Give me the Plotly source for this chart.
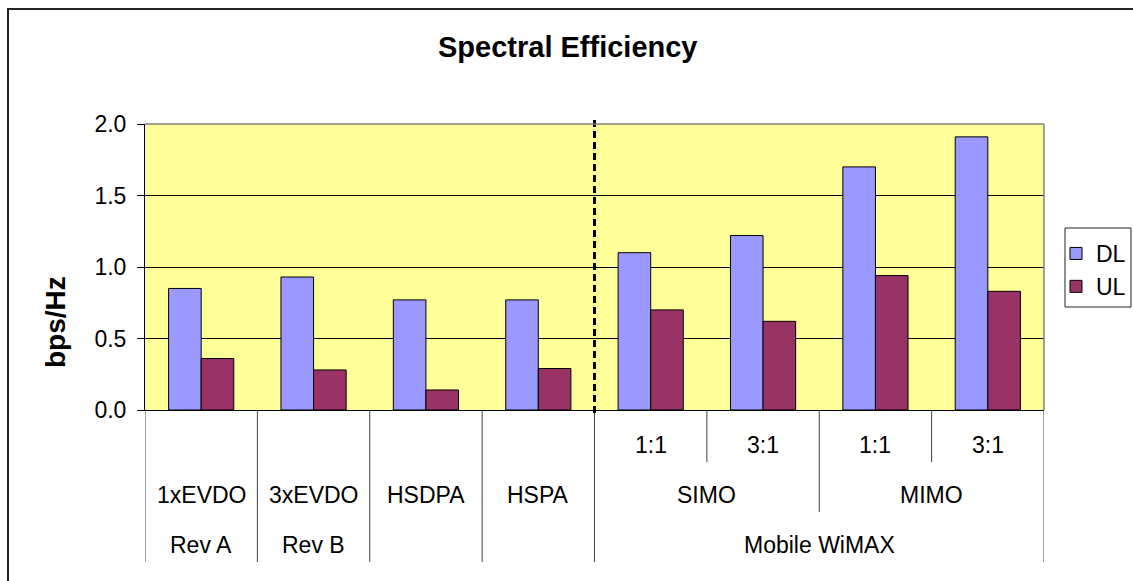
import plotly.graph_objects as go

# ---------------- data ----------------
series_names = ["DL", "UL"]
dl_values = [0.85, 0.93, 0.77, 0.77, 1.10, 1.22, 1.70, 1.91]
ul_values = [0.36, 0.28, 0.14, 0.29, 0.70, 0.62, 0.94, 0.83]

# three-level category axis (inner -> outer)
level1_labels = ["", "", "", "", "1:1", "3:1", "1:1", "3:1"]
level1_spans = [1, 1, 1, 1, 1, 1, 1, 1]
level2_labels = ["1xEVDO", "3xEVDO", "HSDPA", "HSPA", "SIMO", "MIMO"]
level2_spans = [1, 1, 1, 1, 2, 2]
level3_labels = ["Rev A", "Rev B", "", "", "Mobile WiMAX"]
level3_spans = [1, 1, 1, 1, 4]

y_ticks = [0.0, 0.5, 1.0, 1.5, 2.0]
title_text = "Spectral Efficiency"
y_title = "bps/Hz"

# ---------------- styling / geometry ----------------
W, H = 1133, 581
L, R, T, B = 145, 1044, 124, 410
PW, PH = R - L, B - T
FONT = "Liberation Sans, Arial, sans-serif"
DL_COLOR = "#9999FF"
UL_COLOR = "#993366"
SEP_COLOR = "#404040"


def px(p):
    return (p - L) / PW


def py(p):
    return (B - p) / PH


n = len(dl_values)
x_idx = list(range(n))

fig = go.Figure()
fig.add_trace(go.Bar(x=x_idx, y=dl_values, name=series_names[0],
                     marker=dict(color=DL_COLOR, line=dict(color="black", width=1)),
                     legendgroup="a"))
fig.add_trace(go.Bar(x=x_idx, y=ul_values, name=series_names[1],
                     marker=dict(color=UL_COLOR, line=dict(color="black", width=1)),
                     legendgroup="b"))

shapes = []
annotations = []

# level rows: line end pixel (label centre sits 17px above)
level_defs = [
    (level1_labels, level1_spans, 462),
    (level2_labels, level2_spans, 512),
    (level3_labels, level3_spans, 562),
]

boundary_depth = {}
for depth, (labels, spans, end_pix) in enumerate(level_defs, start=1):
    pos = 0
    boundary_depth[-0.5] = depth
    for lab, sp in zip(labels, spans):
        centre = pos + (sp - 1) / 2
        if lab:
            annotations.append(dict(x=centre, y=py(end_pix - 17), xref="x", yref="paper",
                                    text=lab, showarrow=False, yanchor="middle",
                                    font=dict(family=FONT, size=23, color="black")))
        pos += sp
        boundary_depth[pos - 0.5] = depth

for bx, depth in boundary_depth.items():
    end_pix = level_defs[depth - 1][2]
    shapes.append(dict(type="line", xref="x", yref="paper", x0=bx, x1=bx,
                       y0=0, y1=py(end_pix), line=dict(color=SEP_COLOR, width=1)))

# dashed divider before the WiMAX group
divider_x = sum(level3_spans[:-1]) - 0.5
shapes.append(dict(type="line", xref="x", yref="paper", x0=divider_x, x1=divider_x,
                   y0=py(413), y1=py(119), line=dict(color="black", width=3, dash="7px,4px")))

# gray top / right plot border
shapes.append(dict(type="line", xref="paper", yref="paper", x0=0, x1=1, y0=1, y1=1,
                   line=dict(color="#808080", width=1.5)))
shapes.append(dict(type="line", xref="paper", yref="paper", x0=1, x1=1, y0=0, y1=1,
                   line=dict(color="#808080", width=1.5)))

# outer chart border
shapes.append(dict(type="rect", xref="paper", yref="paper", x0=px(8), x1=px(1160),
                   y0=py(600), y1=py(9), line=dict(color="#222222", width=2),
                   fillcolor="rgba(0,0,0,0)"))

# legend box
shapes.append(dict(type="rect", xref="paper", yref="paper", x0=px(1065), x1=px(1131),
                   y0=py(307), y1=py(228), line=dict(color="#222222", width=1),
                   fillcolor="white", layer="below"))

# title & y-axis title
annotations.append(dict(x=px(568), y=py(47), xref="paper", yref="paper", text="<b>" + title_text + "</b>",
                        showarrow=False, xanchor="center", yanchor="middle",
                        font=dict(family=FONT, size=29, color="black")))
annotations.append(dict(x=px(55), y=py(322), xref="paper", yref="paper", text="<b>" + y_title + "</b>",
                        showarrow=False, xanchor="center", yanchor="middle", textangle=-90,
                        font=dict(family=FONT, size=28, color="black")))

fig.update_layout(
    width=W, height=H,
    margin=dict(l=L, r=W - R, t=T, b=H - B, autoexpand=False),
    paper_bgcolor="white",
    plot_bgcolor="#FFFF99",
    barmode="group", bargap=0.42, bargroupgap=0,
    font=dict(family=FONT, size=23, color="black"),
    showlegend=True,
    legend=dict(x=px(1056), y=py(232), xanchor="left", yanchor="top",
                borderwidth=0, bgcolor="rgba(0,0,0,0)",
                font=dict(family=FONT, size=23), tracegroupgap=13,
                traceorder="normal", itemwidth=30),
    shapes=shapes,
    annotations=annotations,
    xaxis=dict(range=[-0.5, n - 0.5], showticklabels=False, showgrid=False,
               zeroline=False, showline=True, linecolor="black", linewidth=1, ticks=""),
    yaxis=dict(range=[0, 2.0], tickvals=y_ticks, ticktext=[f"{v:.1f}" for v in y_ticks],
               showgrid=True, gridcolor="black", gridwidth=1, zeroline=False,
               showline=True, linecolor="black", linewidth=1,
               ticks="outside", ticklen=7, tickcolor="black",
               tickfont=dict(family=FONT, size=23), ticklabelstandoff=6),
)

fig.write_html("out.html", config={"displayModeBar": False},
               post_script="document.body.style.margin='0';document.body.style.overflow='hidden';")
